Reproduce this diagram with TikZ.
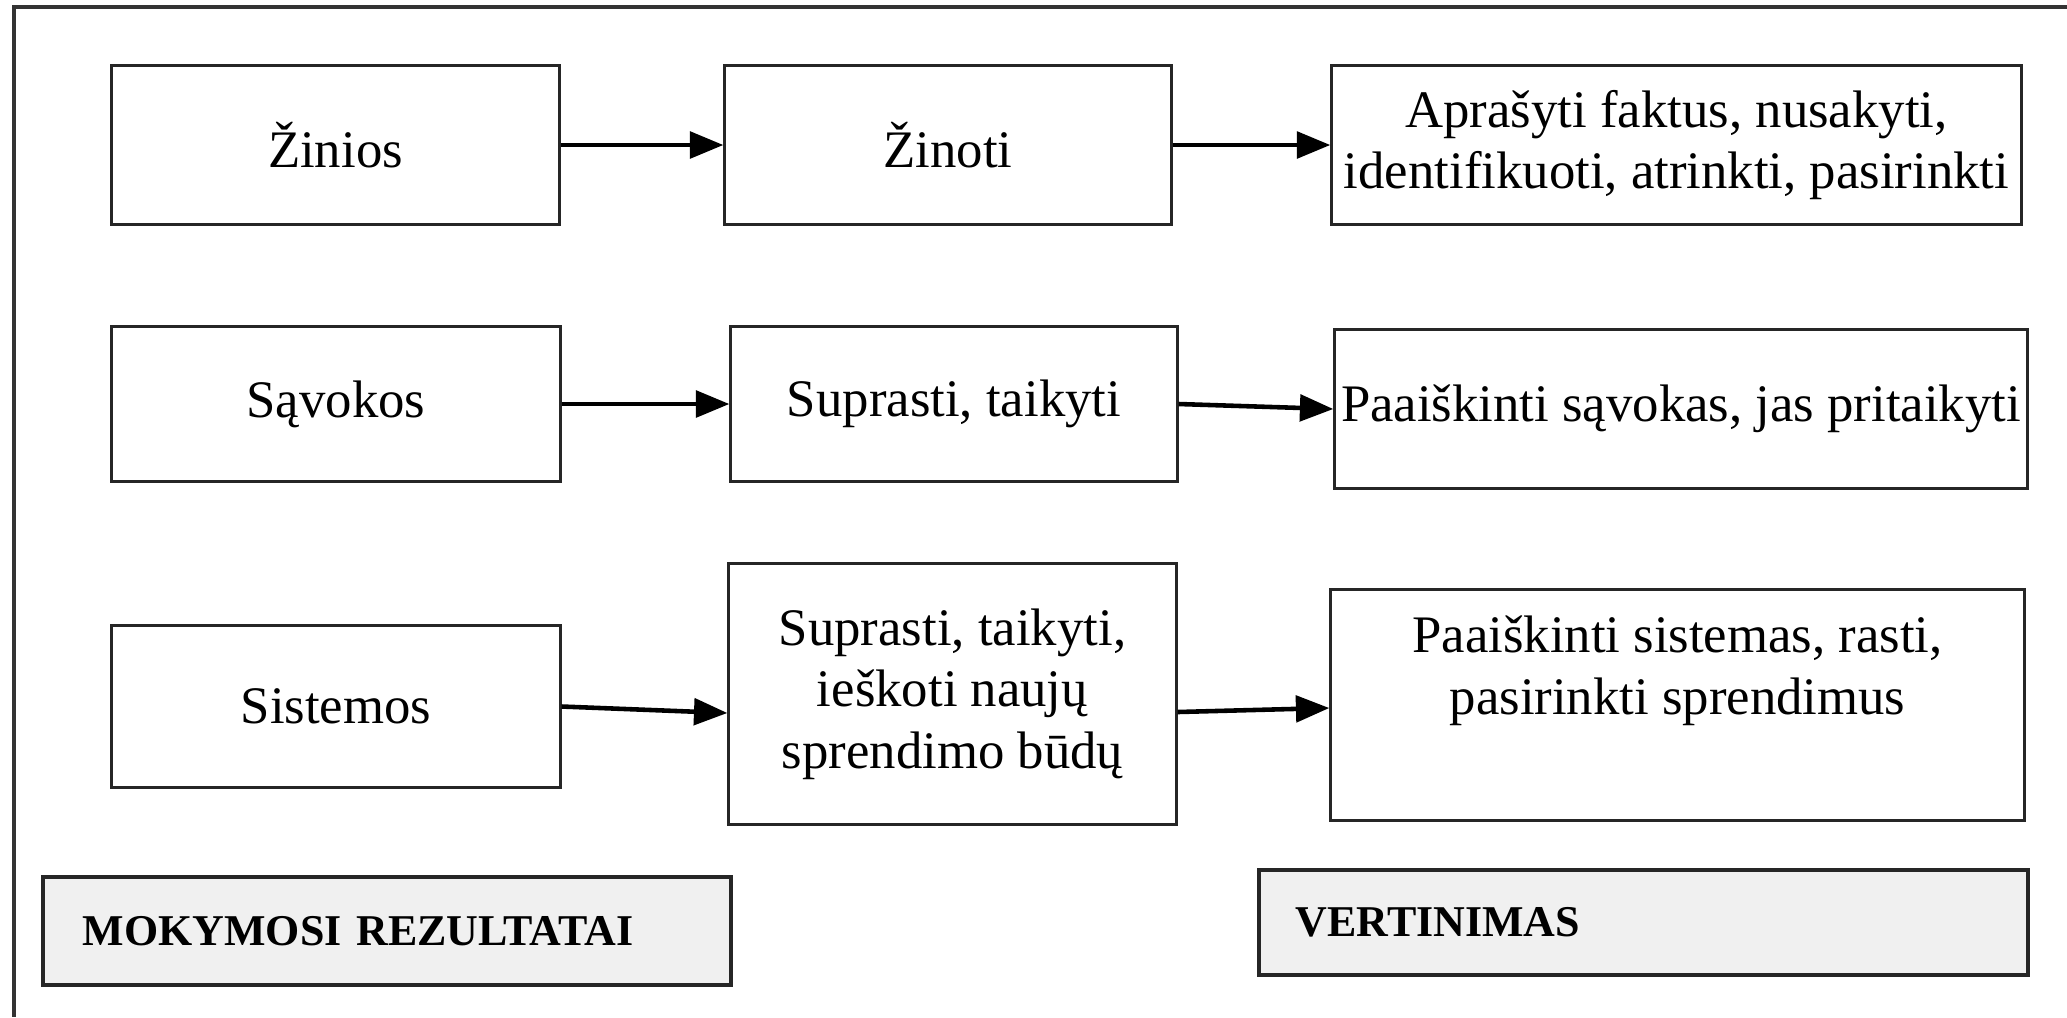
\documentclass[tikz,border=0pt]{standalone}
\usepackage{fontspec}
\setmainfont{Liberation Serif}
\usetikzlibrary{arrows.meta,calc}
\definecolor{panelgray}{HTML}{F0F0F0}
\begin{document}
\begin{tikzpicture}[x=0.01cm,y=-0.01cm,
  box/.style={draw=black!85, line width=0.85pt, rectangle, inner sep=0pt, align=center,
    font=\fontsize{15}{17.5}\selectfont},
  panel/.style={draw=black!85, line width=1.2pt, fill=panelgray, rectangle, inner ysep=0pt, align=left,
    font=\fontsize{12.5}{15}\selectfont\bfseries},
  arr/.style={line width=1.3pt, -{Triangle[length=9.5pt,width=7.5pt]}}]
\useasboundingbox (0,0) rectangle (2067,1017);
% outer frame (only top and left visible)
\coordinate (frameTR) at (2067,7);
\coordinate (frameTL) at (14,7);
\coordinate (frameBL) at (14,1017);
\draw[line width=0.9pt, black!80] (frameTR) -- (frameTL) -- (frameBL);
% row 1
\node[box, minimum width=4.47cm, minimum height=1.58cm] (zinios) at (335.5,145) {Žinios};
\node[box, minimum width=4.46cm, minimum height=1.58cm] (zinoti) at (948,145) {Žinoti};
\node[box, minimum width=6.89cm, minimum height=1.58cm] (aprasyti) at (1676.5,145) {Aprašyti faktus, nusakyti,\\identifikuoti, atrinkti, pasirinkti};
% row 2
\node[box, minimum width=4.48cm, minimum height=1.54cm] (savokos) at (336,404) {Sąvokos};
\node[box, minimum width=4.46cm, minimum height=1.54cm] (suprasti) at (954,404) {Suprasti, taikyti};
\node[box, minimum width=6.92cm, minimum height=1.58cm] (paaisk) at (1681,409) {Paaiškinti sąvokas, jas pritaikyti};
% row 3
\node[box, minimum width=4.48cm, minimum height=1.61cm] (sistemos) at (336,706.5) {Sistemos};
\node[box, minimum width=4.47cm, minimum height=2.60cm] (suprasti3) at (952.5,694) {Suprasti, taikyti,\\ieškoti naujų\\sprendimo būdų};
\node[box, minimum width=6.93cm, minimum height=2.30cm] (paaisk3) at (1677.5,705) {};
\node[box, draw=none, anchor=north] (paaisk3txt) at ($(paaisk3.north)+(0,26)$) {Paaiškinti sistemas, rasti,\\pasirinkti sprendimus};
% bottom panels
\node[panel, minimum height=1.08cm, inner xsep=0.40cm, text width=6.08cm] (mokymosi) at (387,931) {MOKYMOSI REZULTATAI};
\node[panel, minimum height=1.05cm, inner xsep=0.37cm, text width=6.95cm] (vertinimas) at (1643.5,922.5) {VERTINIMAS};
% arrows
\draw[arr] (zinios.east) -- (zinoti.west);
\draw[arr] (zinoti.east) -- (aprasyti.west);
\draw[arr] (savokos.east) -- (suprasti.west);
\draw[arr] (suprasti.east) -- (paaisk.west);
\draw[arr] (sistemos.east) -- ($(suprasti3.west)+(0,19)$);
\draw[arr] ($(suprasti3.east)+(0,18)$) -- ($(paaisk3.west)+(0,3)$);
\end{tikzpicture}
\end{document}
